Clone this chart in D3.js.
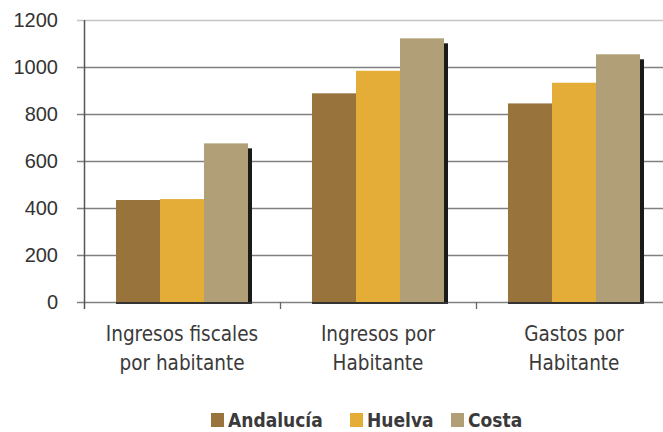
<!DOCTYPE html>
<html><head><meta charset="utf-8">
<script src="https://cdn.jsdelivr.net/npm/d3@7"></script>
<style>
body{margin:0;background:#fff;}
svg{display:block;}
</style></head><body>
<svg id="c" width="663" height="432"></svg>
<script>
const categories = [["Ingresos fiscales","por habitante"],["Ingresos por","Habitante"],["Gastos por","Habitante"]];
const seriesNames = ["Andalucía","Huelva","Costa"];
const andalucia = [434, 888, 845];
const huelva = [438, 984, 933];
const costa = [675, 1122, 1054];
const yTicks = [0,200,400,600,800,1000,1200];
const colors = ["#98733c","#e3ad37","#b1a077"];

const values = [andalucia, huelva, costa];
const svg = d3.select("#c");
const mLeft = 84, mRight = 672, mTop = 20, mBottom = 302;
const x = d3.scaleBand().domain(d3.range(categories.length)).range([mLeft, mRight]).paddingInner(0).paddingOuter(0);
const xs = d3.scaleBand().domain(d3.range(seriesNames.length)).range([32, x.bandwidth()-32]);
const y = d3.scaleLinear().domain([0,1200]).range([mBottom, mTop]);
const numFont = "'Liberation Sans', Arial, sans-serif";
const condFont = "'Liberation Sans Narrow','DejaVu Sans Condensed','Roboto',sans-serif";

// gridlines
svg.append("g").selectAll("line").data(yTicks).join("line")
  .attr("x1", mLeft-7).attr("x2", 663)
  .attr("y1", d=>y(d)+0.5).attr("y2", d=>y(d)+0.5)
  .attr("stroke", d=> d===1200 ? "#c4c4c4" : "#808080").attr("stroke-width", d=> d===1200?1.5:1.3);

// y labels
svg.append("g").selectAll("text").data(yTicks).join("text")
  .attr("x", 58).attr("y", d=>y(d)).attr("dy","0.36em")
  .attr("text-anchor","end").attr("font-family", numFont).attr("font-size", 20).attr("fill","#333")
  .text(d=>d);

// bars
const g = svg.append("g");
categories.forEach((c,i)=>{
  const gx = x(i);
  const lastV = values[values.length-1][i];
  g.append("rect").attr("x", gx+xs(2)+xs.bandwidth()).attr("y", y(lastV)+5)
    .attr("width", 4).attr("height", mBottom - y(lastV)-5).attr("fill","#1a1a1a");
  values.forEach((arr,s)=>{
    g.append("rect").attr("x", gx+xs(s)).attr("y", y(arr[i]))
      .attr("width", xs.bandwidth()).attr("height", mBottom - y(arr[i]))
      .attr("fill", colors[s]);
  });
  g.append("rect").attr("x", gx+xs(0)).attr("y", mBottom).attr("width", xs(2)+xs.bandwidth()-xs(0)+4).attr("height",2).attr("fill","#333");
});

// axes
svg.append("line").attr("x1", mLeft+0.5).attr("x2", mLeft+0.5).attr("y1", mTop).attr("y2", mBottom+7)
  .attr("stroke","#555").attr("stroke-width",1.5);
svg.append("g").selectAll("line").data(d3.range(1,categories.length)).join("line")
  .attr("x1", d=>x(d)+0.5).attr("x2", d=>x(d)+0.5).attr("y1", mBottom).attr("y2", mBottom+7)
  .attr("stroke","#666").attr("stroke-width",1.3);

// category labels
svg.append("g").selectAll("text").data(categories).join("text")
  .attr("font-family", condFont).attr("font-size", 20.5).attr("fill","#3a3a3a").attr("text-anchor","middle")
  .each(function(d,i){
    const t = d3.select(this);
    d.forEach((line,k)=>{
      t.append("tspan").attr("x", x(i)+x.bandwidth()/2).attr("y", 341 + k*29).text(line);
    });
  });

// legend
const legendX = [211, 350, 451];
const lg = svg.append("g");
seriesNames.forEach((n,s)=>{
  lg.append("rect").attr("x", legendX[s]).attr("y", 413).attr("width", 13).attr("height", 14).attr("fill", colors[s]);
  lg.append("text").attr("x", legendX[s]+17).attr("y", 427).attr("font-family", condFont)
    .attr("font-size", 19).attr("font-weight","bold").attr("fill","#3a3a3a").text(n);
});
</script>
</body></html>
